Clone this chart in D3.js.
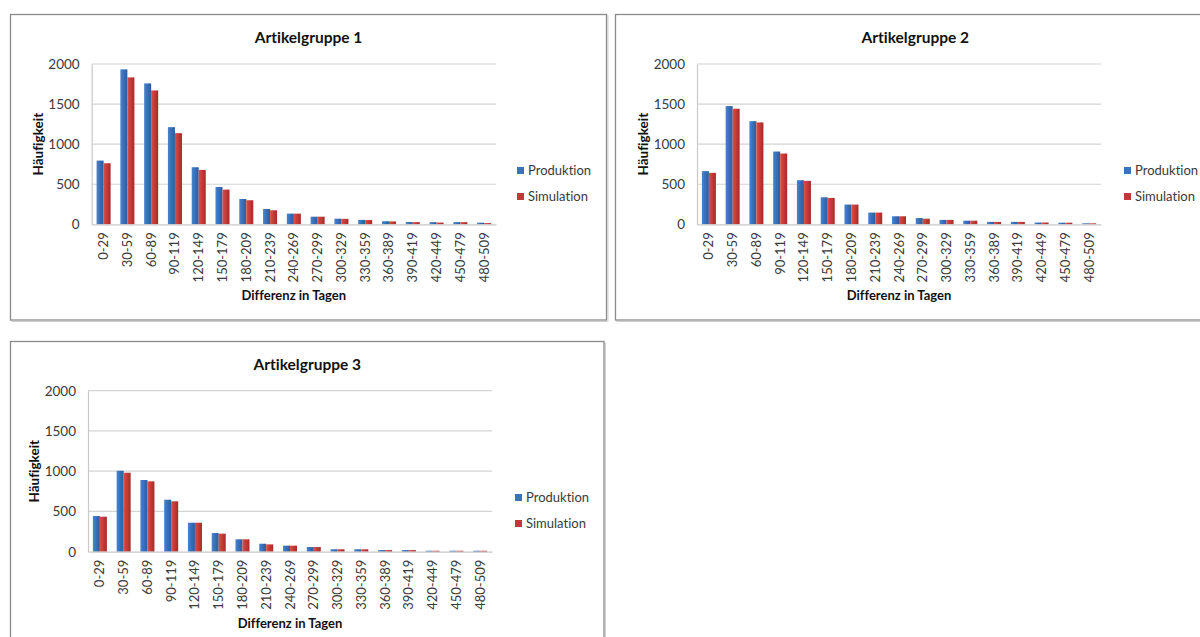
<!DOCTYPE html>
<html><head><meta charset="utf-8">
<script src="https://cdn.jsdelivr.net/npm/d3@7"></script>
<style>
html,body{margin:0;padding:0;background:#fff;}
svg{display:block;font-family:Lato,"Open Sans",sans-serif;}
svg text{font-variant-ligatures:none;font-feature-settings:"liga" 0,"clig" 0;}
</style></head>
<body>
<svg id="c" width="1200" height="637"></svg>
<script>
const categories = ["0-29","30-59","60-89","90-119","120-149","150-179","180-209","210-239","240-269","270-299","300-329","330-359","360-389","390-419","420-449","450-479","480-509"];
const seriesNames = ["Produktion","Simulation"];
const titles = ["Artikelgruppe 1","Artikelgruppe 2","Artikelgruppe 3"];
const yTicks = [0,500,1000,1500,2000];
const prod1 = [795,1933,1758,1212,712,466,316,191,133,95,70,55,38,28,27,27,20];
const sim1  = [762,1833,1670,1137,679,433,300,175,133,95,68,53,36,27,22,27,15];
const prod2 = [663,1475,1287,908,550,337,246,146,100,78,55,45,30,30,22,20,12];
const sim2  = [642,1442,1271,883,542,329,246,146,100,70,55,45,30,30,22,20,12];
const prod3 = [443,1006,891,646,360,232,154,99,75,58,30,30,20,20,12,12,12];
const sim3  = [435,981,874,626,360,224,154,91,75,58,30,30,20,20,12,12,12];

const panels = [
  {title:titles[0], prod:prod1, sim:sim1, box:[10.5,14.5,606.5,320], plot:[91.7,496,64,224.3], leg:[517,170]},
  {title:titles[1], prod:prod2, sim:sim2, box:[615.5,14.5,1215,320], plot:[697,1101,64,224.3], leg:[1124,170]},
  {title:titles[2], prod:prod3, sim:sim3, box:[10.5,341.5,604,660], plot:[88,492,390.7,551.7], leg:[515,497]}
];

const svg = d3.select("#c");
const defs = svg.append("defs");
function grad(id, c1, c2, c3){
  const g = defs.append("linearGradient").attr("id",id).attr("x1","0").attr("x2","1").attr("y1","0").attr("y2","0");
  g.append("stop").attr("offset","0").attr("stop-color",c1);
  g.append("stop").attr("offset","0.35").attr("stop-color",c2);
  g.append("stop").attr("offset","1").attr("stop-color",c3);
}
grad("gb","#4a84d0","#3b74c0","#2d5c9c");
grad("gr","#d9504b","#cc3f3c","#a52b29");
const fills = ["url(#gb)","url(#gr)"];
const legendColors = ["#3a72bd","#c0383a"];

panels.forEach(p=>{
  const g = svg.append("g");
  const [bx0,by0,bx1,by1] = p.box;
  g.append("rect").attr("x",bx0+1.5).attr("y",by0+1.5).attr("width",bx1-bx0).attr("height",by1-by0)
    .attr("fill","none").attr("stroke","#d0d0d0").attr("stroke-width",1);
  g.append("rect").attr("x",bx0).attr("y",by0).attr("width",bx1-bx0).attr("height",by1-by0)
    .attr("fill","#fff").attr("stroke","#8a8a8a").attr("stroke-width",1.3);

  const [px0,px1,py0,py1] = p.plot;
  const x = d3.scaleBand().domain(categories).range([px0,px1]).paddingInner(0.41).paddingOuter(0.205);
  const x1 = d3.scaleBand().domain(seriesNames).range([0,x.bandwidth()]);
  const y = d3.scaleLinear().domain([0,2000]).range([py1,py0]);

  g.append("g").selectAll("line").data(yTicks.filter(t=>t>0)).join("line")
    .attr("x1",px0).attr("x2",px1).attr("y1",d=>y(d)).attr("y2",d=>y(d))
    .attr("stroke","#d4d4d4").attr("stroke-width",1.2);

  const ya = g.append("g").attr("transform",`translate(${px0},0)`)
    .call(d3.axisLeft(y).tickValues(yTicks).tickFormat(d3.format("d")).tickSize(0).tickPadding(12));
  ya.select(".domain").attr("stroke","#c8c8c8").attr("stroke-width",1.2);
  ya.selectAll("text").attr("font-size","13.5px").attr("fill","#3a3a3a").attr("font-family","Lato, sans-serif");

  const data = categories.map((c,i)=>({c, vals:[p.prod[i],p.sim[i]]}));
  const grp = g.append("g").selectAll("g").data(data).join("g")
    .attr("transform",d=>`translate(${x(d.c)},0)`);
  grp.selectAll("rect").data(d=>d.vals.map((v,k)=>({v,k}))).join("rect")
    .attr("x",d=>x1(seriesNames[d.k])).attr("width",x1.bandwidth())
    .attr("y",d=>y(d.v)).attr("height",d=>y(0)-y(d.v))
    .attr("fill",d=>fills[d.k]);

  const xa = g.append("g").attr("transform",`translate(0,${py1})`)
    .call(d3.axisBottom(x).tickSize(0).tickPadding(0));
  xa.select(".domain").attr("stroke","#c8c8c8").attr("stroke-width",1.2);
  xa.selectAll("text").attr("font-size","13px").attr("fill","#3a3a3a").attr("font-family","Lato, sans-serif")
    .attr("text-anchor","end").attr("dy",null)
    .attr("transform","translate(4.5,8) rotate(-90)");

  g.append("text").attr("x",(bx0+bx1)/2).attr("y",by0+28).attr("text-anchor","middle")
    .attr("font-size","15.5px").attr("font-weight","bold").attr("fill","#111").text(p.title);
  g.append("text").attr("x",(px0+px1)/2).attr("y",py1+76).attr("text-anchor","middle")
    .attr("font-size","13px").attr("font-weight","bold").attr("fill","#111").text("Differenz in Tagen");
  g.append("text").attr("transform",`translate(${px0-49},${(py0+py1)/2}) rotate(-90)`).attr("text-anchor","middle")
    .attr("font-size","13.5px").attr("font-weight","bold").attr("fill","#111").text("Häufigkeit");

  const lg = g.append("g").attr("transform",`translate(${p.leg[0]},${p.leg[1]})`);
  seriesNames.forEach((s,k)=>{
    lg.append("rect").attr("x",0).attr("y",k*26-3).attr("width",7).attr("height",7).attr("fill",legendColors[k]);
    lg.append("text").attr("x",11).attr("y",k*26+5).attr("font-size","13px").attr("fill","#3a3a3a").text(s);
  });
});
</script>
</body></html>
